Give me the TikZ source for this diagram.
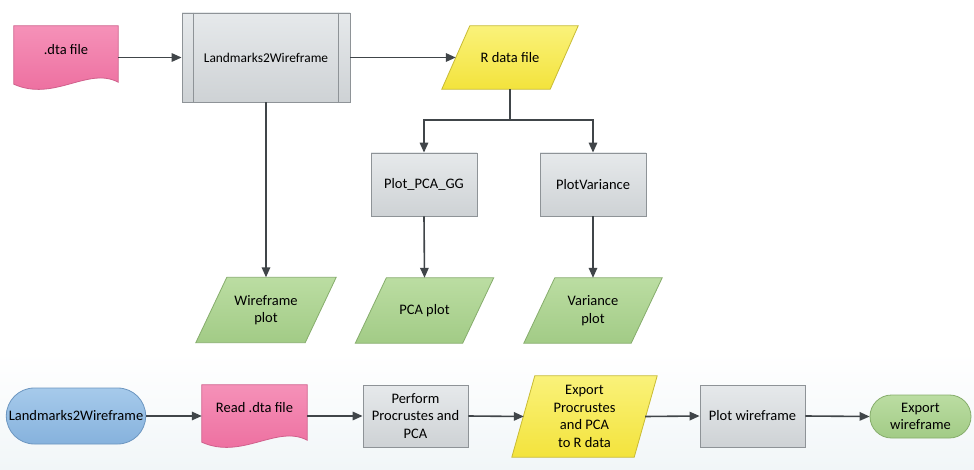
\documentclass[tikz,border=0pt]{standalone}
\usepackage{fontspec}
\setmainfont{Carlito}
\usetikzlibrary{arrows.meta,shapes.misc,calc}
\pgfdeclarelayer{back}
\pgfdeclarelayer{bg}
\pgfsetlayers{back,bg,main}
\definecolor{pinkT}{HTML}{F591B8}
\definecolor{pinkB}{HTML}{EC6A9C}
\definecolor{pinkD}{HTML}{D0608C}
\definecolor{grayT}{HTML}{E6E9EB}
\definecolor{grayB}{HTML}{CED2D5}
\definecolor{grayD}{HTML}{8E9397}
\definecolor{yelT}{HTML}{FAF27A}
\definecolor{yelB}{HTML}{F3E33C}
\definecolor{yelD}{HTML}{C8BB34}
\definecolor{grnT}{HTML}{BBDDA2}
\definecolor{grnB}{HTML}{A2CB86}
\definecolor{grnD}{HTML}{86AD6C}
\definecolor{bluT}{HTML}{A6CAEB}
\definecolor{bluB}{HTML}{86B2DD}
\definecolor{bluD}{HTML}{6C96C0}
\definecolor{arrowc}{HTML}{404549}
\definecolor{bandB}{HTML}{F1F6F8}
\tikzset{
  txt/.style={font=\fontsize{14.5pt}{17.5pt}\selectfont, align=center, text=black},
  proc/.style={txt, rectangle, draw=grayD, line width=0.8pt, top color=grayT, bottom color=grayB,
    minimum width=106pt, minimum height=63pt, inner sep=2pt},
  hold/.style={txt, rectangle, draw=none, inner sep=0pt},
  term/.style={txt, rounded rectangle, line width=0.8pt, inner sep=2pt},
  arr/.style={draw=arrowc, line width=1.6pt, -{Triangle[length=10pt,width=8.5pt]}},
  ln/.style={draw=arrowc, line width=1.6pt},
  pinkfill/.style={draw=pinkD, line width=0.8pt, top color=pinkT, bottom color=pinkB},
  yelfill/.style={draw=yelD, line width=0.8pt, top color=yelT, bottom color=yelB},
  grnfill/.style={draw=grnD, line width=0.8pt, top color=grnT, bottom color=grnB},
}
\newcommand{\pgramshape}[3]{%
  \path[#3] ([xshift=#2]#1.north west) -- (#1.north east) -- ([xshift=-#2]#1.south east) -- (#1.south west) -- cycle;}
\newcommand{\docshape}[4]{%
  \path[#4] (#1.north west) -- (#1.north east) -- ([yshift=-#2]#1.south east)
    .. controls +(-30pt,16pt) and +(40pt,-18pt) .. ([yshift=-#3]#1.south west) -- cycle;}
\begin{document}
\begin{tikzpicture}[x=1pt,y=-1pt]
\useasboundingbox (0,0) rectangle (974,470);
\begin{pgfonlayer}{back}
  \fill[white] (0,0) rectangle (974,470);
  \shade[top color=white, bottom color=bandB] (0,352) rectangle (974,470);
\end{pgfonlayer}

% ---------- top flow ----------
\node[hold, minimum width=104pt, minimum height=48pt] (dta) at (66,50) {.dta file};
\node[proc, minimum width=168pt, minimum height=89pt, font=\fontsize{13.4pt}{16pt}\selectfont] (lw) at (266,57.5) {Landmarks2Wireframe};
\draw[grayD, line width=0.8pt] ([xshift=12pt]lw.north west) -- ([xshift=12pt]lw.south west)
  ([xshift=-12pt]lw.north east) -- ([xshift=-12pt]lw.south east);
\node[hold, minimum width=136pt, minimum height=63pt] (rdata) at (510,57.5) {R data file};
\node[proc] (pca) at (424,184.5) {Plot\_PCA\_GG};
\node[proc] (var) at (593,184.5) {PlotVariance};
\node[hold, minimum width=140pt, minimum height=65pt] (wfp) at (266,310) {Wireframe\\plot};
\node[hold, minimum width=138pt, minimum height=65pt] (pcap) at (424.5,310.5) {PCA plot};
\node[hold, minimum width=138pt, minimum height=65pt] (varp) at (593,310.5) {Variance\\plot};
\coordinate (split) at (rdata.south |- 0,120);

% ---------- bottom flow ----------
\node[term, draw=bluD, top color=bluT, bottom color=bluB, minimum width=138pt, minimum height=56pt] (t1) at (76,416) {Landmarks2Wireframe};
\node[hold, minimum width=105pt, minimum height=46pt] (read) at (254.5,408) {Read .dta file};
\node[proc, minimum width=105pt, minimum height=62pt] (perf) at (415.5,416) {Perform\\Procrustes and\\PCA};
\node[hold, minimum width=145pt, minimum height=81pt] (exp) at (584.5,416.5) {Export\\Procrustes\\and PCA\\to R data};
\node[proc, minimum width=105pt, minimum height=62pt] (pw) at (752.5,416) {Plot wireframe};
\node[term, draw=grnD, top color=grnT, bottom color=grnB, minimum width=105pt, minimum height=43pt] (t2) at (920.5,416.5) {Export\\wireframe};

% ---------- custom shapes ----------
\begin{pgfonlayer}{bg}
  \docshape{dta}{8pt}{10pt}{pinkfill}
  \pgramshape{rdata}{28pt}{yelfill}
  \pgramshape{wfp}{31pt}{grnfill}
  \pgramshape{pcap}{31pt}{grnfill}
  \pgramshape{varp}{31pt}{grnfill}
  \docshape{read}{9pt}{11pt}{pinkfill}
  \pgramshape{exp}{23pt}{yelfill}
\end{pgfonlayer}

% ---------- connectors ----------
\draw[arr] (dta.east |- lw.west) -- (lw.west);
\draw[arr] (lw.east) -- ([xshift=14pt]rdata.west);
\draw[ln] (rdata.south) -- (split);
\draw[arr] (split) -| (pca.north);
\draw[arr] (split) -| (var.north);
\draw[arr] (lw.south) -- (wfp.north);
\draw[arr] (pca.south) -- (pcap.north);
\draw[arr] (var.south) -- (varp.north);

\draw[arr] (t1.east) -- (t1.east -| read.west);
\draw[arr] (read.east |- perf.west) -- (perf.west);
\draw[arr] (perf.east) -- ([xshift=12pt]exp.west);
\draw[arr] ([xshift=-12pt]exp.east) -- (pw.west);
\draw[arr] (pw.east) -- (t2.west);
\end{tikzpicture}
\end{document}
